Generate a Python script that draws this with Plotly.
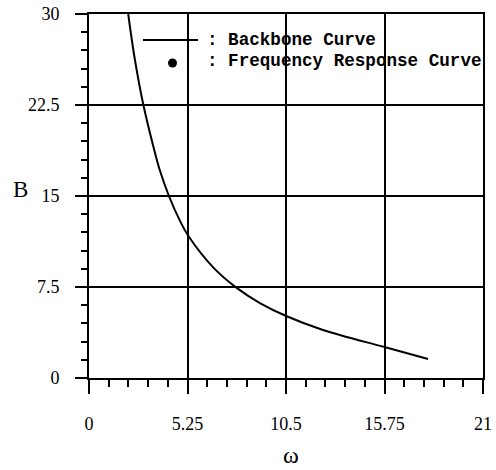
import plotly.graph_objects as go

# Backbone curve data
omega = [2.09, 2.45, 2.90, 3.46, 3.78, 4.26, 4.85, 5.29, 6.63, 7.87, 9.11, 10.54, 12.47, 15.75, 18.07]
B_vals = [30.0, 26.2, 22.5, 18.9, 17.1, 15.0, 12.95, 11.72, 9.1, 7.43, 6.18, 5.09, 3.96, 2.55, 1.57]

x_ticks = [0, 5.25, 10.5, 15.75, 21]
x_ticktext = ["0", "5.25", "10.5", "15.75", "21"]
y_ticks = [0, 7.5, 15, 22.5, 30]
y_ticktext = ["0", "7.5", "15", "22.5", "30"]

legend_labels = [": Backbone Curve", ": Frequency Response Curve"]

# plot area geometry (pixels) for legend placement helpers
L, R, T, Bt = 89, 483, 14, 378
W, H = R - L, Bt - T


def px(xp):
    return (xp - L) / W


def py(yp):
    return (Bt - yp) / H


fig = go.Figure()
fig.add_trace(go.Scatter(
    x=omega, y=B_vals, mode="lines",
    line=dict(color="black", width=2, shape="spline", smoothing=1.0),
    showlegend=False, hoverinfo="skip",
))

tick_font = dict(family="Liberation Serif", size=18, color="black")

fig.update_xaxes(
    range=[0, 21], tickvals=x_ticks, ticktext=x_ticktext,
    showgrid=True, gridcolor="black", gridwidth=2,
    showline=True, linecolor="black", linewidth=2, mirror=True,
    ticks="outside", ticklen=14, tickwidth=2, tickcolor="black",
    minor=dict(dtick=1.05, tick0=0, ticks="outside", ticklen=7, tickwidth=2,
               tickcolor="black", showgrid=False),
    zeroline=False, tickfont=tick_font, ticklabelstandoff=14,
    automargin=False,
)
fig.update_yaxes(
    range=[0, 30], tickvals=y_ticks, ticktext=y_ticktext,
    showgrid=True, gridcolor="black", gridwidth=2,
    showline=True, linecolor="black", linewidth=2, mirror=True,
    ticks="outside", ticklen=12, tickwidth=2, tickcolor="black",
    minor=dict(dtick=1.5, tick0=0, ticks="outside", ticklen=6, tickwidth=2,
               tickcolor="black", showgrid=False),
    zeroline=False, tickfont=tick_font, ticklabelstandoff=12,
    automargin=False,
)

shapes = [
    dict(type="line", xref="paper", yref="paper",
         x0=px(143), x1=px(198), y0=py(40), y1=py(40),
         line=dict(color="black", width=2)),
    dict(type="circle", xref="paper", yref="paper",
         x0=px(168), x1=px(177), y0=py(58.5), y1=py(67.5),
         fillcolor="black", line=dict(color="black", width=0)),
]

leg_font = dict(family="Liberation Mono", size=17.6, color="black")
annotations = [
    dict(text="<b>" + legend_labels[0] + "</b>", xref="paper", yref="paper",
         x=px(205), y=py(40), xanchor="left", yanchor="middle",
         showarrow=False, font=leg_font),
    dict(text="<b>" + legend_labels[1] + "</b>", xref="paper", yref="paper",
         x=px(205), y=py(61), xanchor="left", yanchor="middle",
         showarrow=False, font=leg_font),
    dict(text="B", xref="paper", yref="paper", x=px(20), y=py(190),
         xanchor="center", yanchor="middle", showarrow=False,
         font=dict(family="Liberation Serif", size=23, color="black")),
    dict(text="ω", xref="paper", yref="paper", x=px(291), y=py(455),
         xanchor="center", yanchor="middle", showarrow=False,
         font=dict(family="Liberation Serif", size=24, color="black")),
]

fig.update_layout(
    width=496, height=470,
    margin=dict(l=L, r=496 - R, t=T, b=470 - Bt),
    paper_bgcolor="white", plot_bgcolor="white",
    shapes=shapes, annotations=annotations,
    showlegend=False,
)

fig.write_html("out.html")
